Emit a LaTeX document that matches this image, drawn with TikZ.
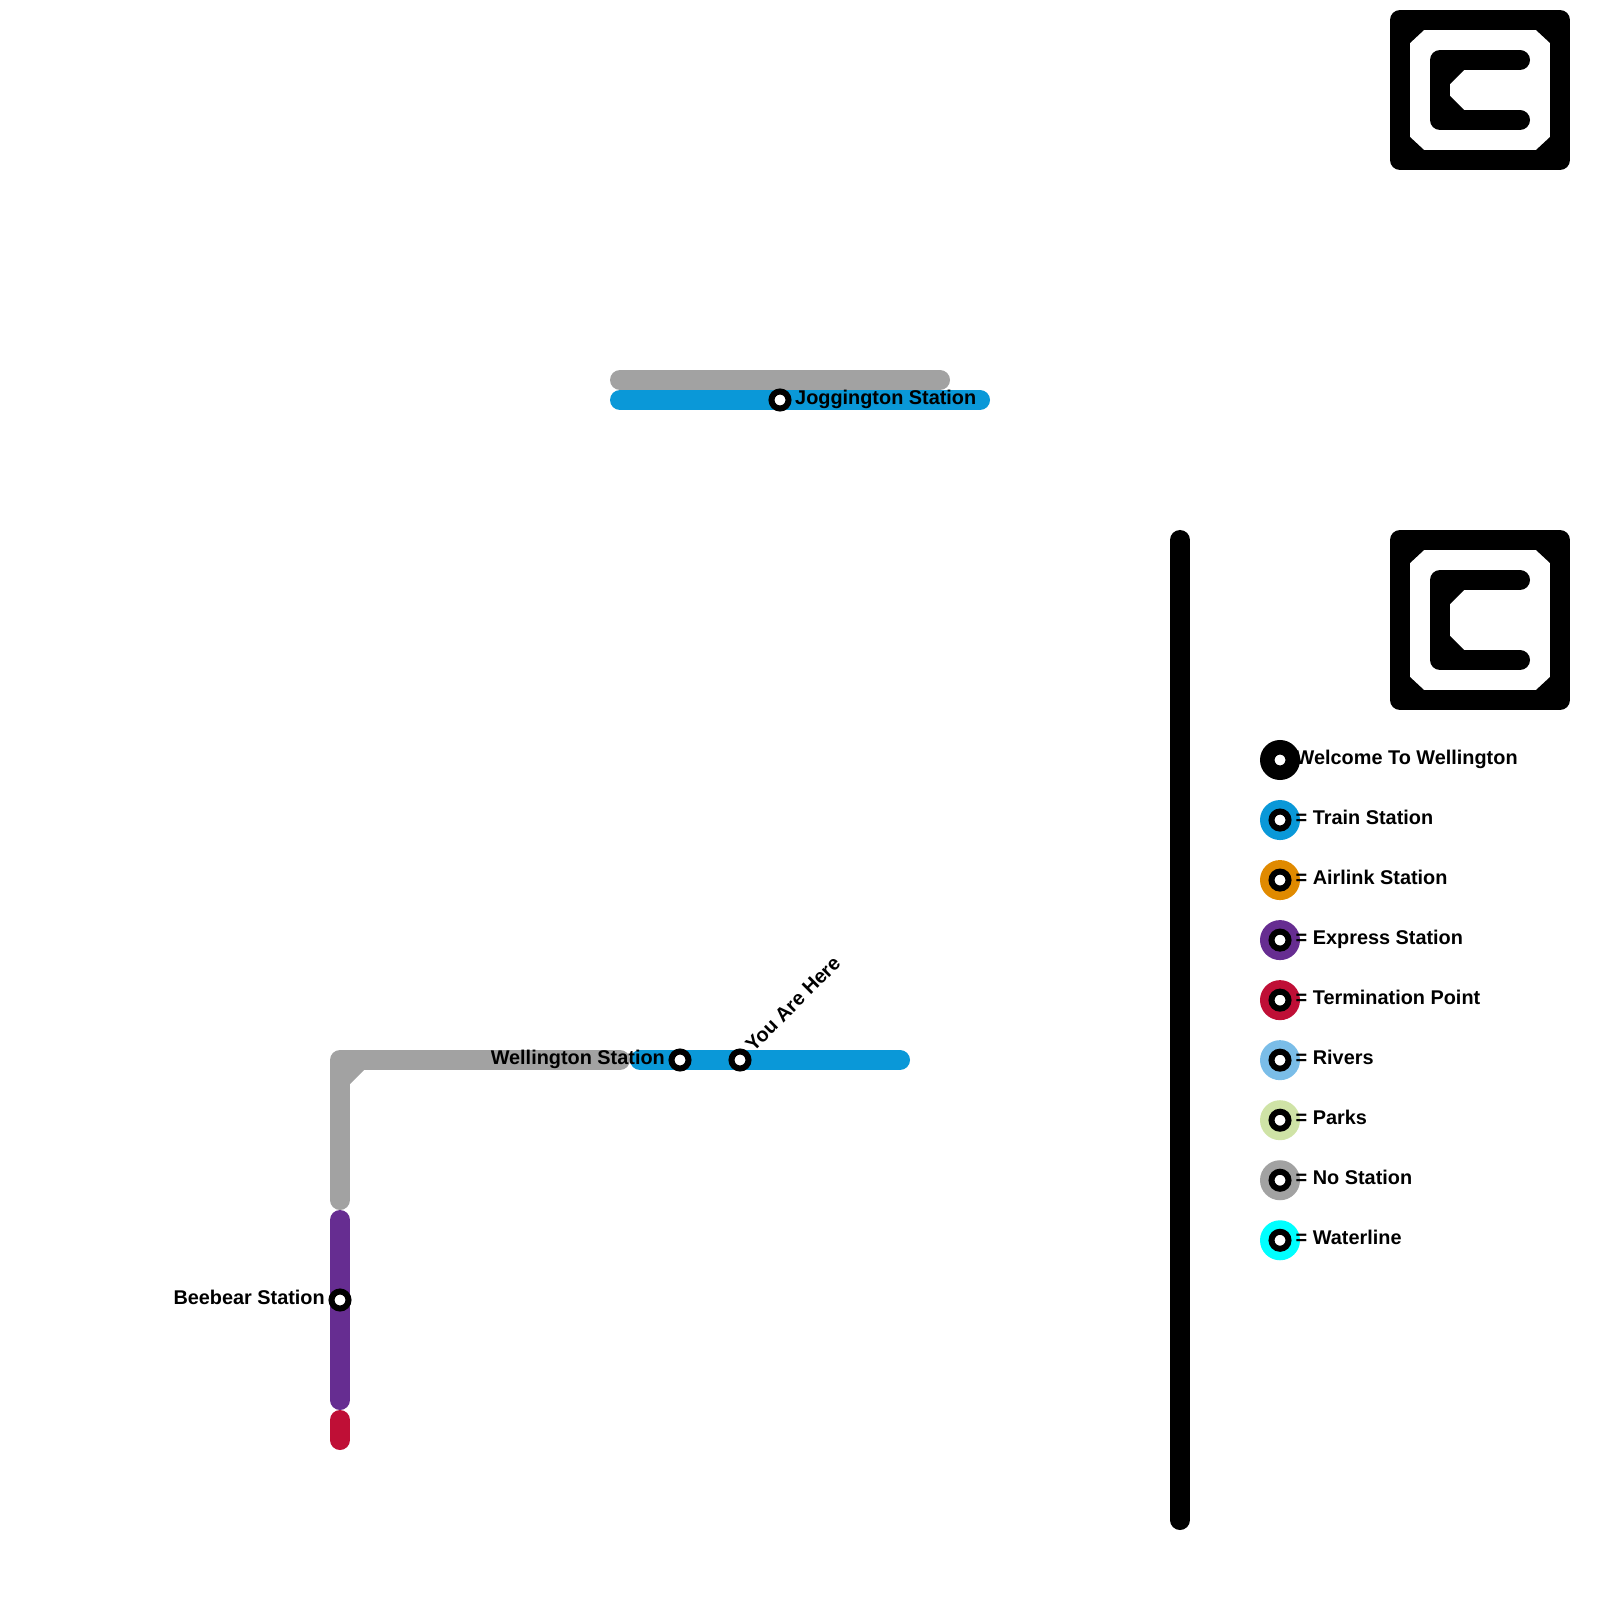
\documentclass[tikz,border=0pt]{standalone}
\usepackage{fontspec}
\setmainfont{Liberation Sans}
\usetikzlibrary{positioning}
\definecolor{trainblue}{HTML}{0A98D8}
\definecolor{airlinkorange}{HTML}{E08A00}
\definecolor{expresspurple}{HTML}{662D91}
\definecolor{terminationred}{HTML}{BF0F36}
\definecolor{riverblue}{HTML}{7ABDE8}
\definecolor{parkgreen}{HTML}{CFE3A6}
\definecolor{nostationgray}{HTML}{A2A2A2}
\definecolor{waterlinecyan}{HTML}{00FFFF}
\tikzset{
    railline/.style={line width=0.2cm, line cap=round, line join=round},
    station/.style={circle, draw=black, fill=white, line width=0.06cm, minimum size=0.17cm, inner sep=0pt},
    legendring/.style={circle, minimum size=0.4cm, inner sep=0pt, outer sep=0pt},
    maplabel/.style={font=\bfseries\fontsize{5.65pt}{6pt}\selectfont, inner sep=0pt, text height=0.14cm, text depth=0.05cm},
}
\begin{document}
\begin{tikzpicture}[x=0.01cm, y=-0.01cm]
    \useasboundingbox (0,0) rectangle (1600,1600);

    % upper logo
    \draw[railline] (1400,20) rectangle (1560,160);
    \fill[black] (1410,30) -- (1424,30) -- (1410,43) -- cycle;
    \fill[black] (1550,30) -- (1536,30) -- (1550,43) -- cycle;
    \fill[black] (1550,150) -- (1536,150) -- (1550,137) -- cycle;
    \fill[black] (1410,150) -- (1424,150) -- (1410,137) -- cycle;
    \draw[railline] (1520,60) -- (1440,60) -- (1440,120) -- (1520,120);
    \fill[black] (1450,70) -- (1464,70) -- (1450,84) -- cycle;
    \fill[black] (1450,110) -- (1464,110) -- (1450,96) -- cycle;

    % lower logo
    \draw[railline] (1400,540) rectangle (1560,700);
    \fill[black] (1410,550) -- (1424,550) -- (1410,563) -- cycle;
    \fill[black] (1550,550) -- (1536,550) -- (1550,563) -- cycle;
    \fill[black] (1550,690) -- (1536,690) -- (1550,677) -- cycle;
    \fill[black] (1410,690) -- (1424,690) -- (1410,677) -- cycle;
    \draw[railline] (1520,580) -- (1440,580) -- (1440,660) -- (1520,660);
    \fill[black] (1450,590) -- (1464,590) -- (1450,604) -- cycle;
    \fill[black] (1450,650) -- (1464,650) -- (1450,636) -- cycle;

    % lines
    \coordinate (topgrayA) at (620,380);
    \coordinate (topgrayB) at (940,380);
    \coordinate (topblueA) at (620,400);
    \coordinate (topblueB) at (980,400);
    \coordinate (cornergray) at (340,1060);
    \coordinate (midgrayB) at (620,1060);
    \coordinate (midblueA) at (640,1060);
    \coordinate (midblueB) at (900,1060);
    \coordinate (lowgrayB) at (340,1200);
    \coordinate (purpleA) at (340,1220);
    \coordinate (purpleB) at (340,1400);
    \coordinate (redA) at (340,1420);
    \coordinate (redB) at (340,1440);
    \coordinate (dividerA) at (1180,540);
    \coordinate (dividerB) at (1180,1520);

    \draw[railline, nostationgray] (topgrayA) -- (topgrayB);
    \draw[railline, trainblue] (topblueA) -- (topblueB);
    \fill[nostationgray] (350,1070) -- (364,1070) -- (350,1084) -- cycle;
    \draw[railline, nostationgray] (midgrayB) -- (cornergray) -- (lowgrayB);
    \draw[railline, trainblue] (midblueA) -- (midblueB);
    \draw[railline, expresspurple] (purpleA) -- (purpleB);
    \draw[railline, terminationred] (redA) -- (redB);
    \draw[railline, black] (dividerA) -- (dividerB);

    % stations
    \node[station] (joggington) at (780,400) {};
    \node[station] (wellington) at (680,1060) {};
    \node[station] (youarehere) at (740,1060) {};
    \node[station] (beebear) at (340,1300) {};

    \node[maplabel, right=0.03cm of joggington.east] (jogginglabel) {Joggington Station};
    \node[maplabel, left=0.03cm of wellington.west] (wellingtonlabel) {Wellington Station};
    \node[maplabel, left=0.03cm of beebear.west] (beebearlabel) {Beebear Station};
    \node[maplabel, rotate=45, anchor=west] (herelabel) at (750,1050) {You Are Here};

    % legend
    \node[legendring, fill=black] (keywelcome) at (1280,760) {};
    \node[legendring, fill=trainblue, below=0.2cm of keywelcome] (keytrain) {};
    \node[legendring, fill=airlinkorange, below=0.2cm of keytrain] (keyairlink) {};
    \node[legendring, fill=expresspurple, below=0.2cm of keyairlink] (keyexpress) {};
    \node[legendring, fill=terminationred, below=0.2cm of keyexpress] (keytermination) {};
    \node[legendring, fill=riverblue, below=0.2cm of keytermination] (keyrivers) {};
    \node[legendring, fill=parkgreen, below=0.2cm of keyrivers] (keyparks) {};
    \node[legendring, fill=nostationgray, below=0.2cm of keyparks] (keynostation) {};
    \node[legendring, fill=waterlinecyan, below=0.2cm of keynostation] (keywaterline) {};

    \node[station] at (keywelcome) {};
    \node[station] at (keytrain) {};
    \node[station] at (keyairlink) {};
    \node[station] at (keyexpress) {};
    \node[station] at (keytermination) {};
    \node[station] at (keyrivers) {};
    \node[station] at (keyparks) {};
    \node[station] at (keynostation) {};
    \node[station] at (keywaterline) {};

    \node[maplabel, right=-0.05cm of keywelcome.east] {Welcome To Wellington};
    \node[maplabel, right=-0.05cm of keytrain.east] {= Train Station};
    \node[maplabel, right=-0.05cm of keyairlink.east] {= Airlink Station};
    \node[maplabel, right=-0.05cm of keyexpress.east] {= Express Station};
    \node[maplabel, right=-0.05cm of keytermination.east] {= Termination Point};
    \node[maplabel, right=-0.05cm of keyrivers.east] {= Rivers};
    \node[maplabel, right=-0.05cm of keyparks.east] {= Parks};
    \node[maplabel, right=-0.05cm of keynostation.east] {= No Station};
    \node[maplabel, right=-0.05cm of keywaterline.east] {= Waterline};
\end{tikzpicture}
\end{document}
